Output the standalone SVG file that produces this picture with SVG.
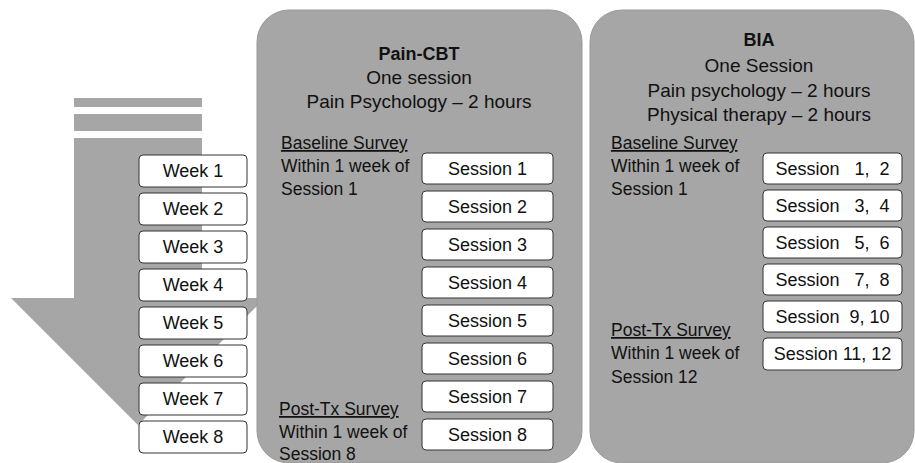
<svg xmlns="http://www.w3.org/2000/svg" width="915" height="463" viewBox="0 0 915 463">
<style>
text{font-family:"Liberation Sans",Arial,sans-serif;fill:#111;}
.box{fill:#fff;stroke:#333;stroke-width:1;}
.bt{font-size:18px;text-anchor:middle;white-space:pre;}
.hd{font-size:19px;text-anchor:middle;}
.tt{font-size:18px;font-weight:bold;text-anchor:middle;}
.lt{font-size:17.5px;}
.ul{text-decoration:underline;}
.panel{fill:#a6a6a6;stroke:#999;stroke-width:1;}
.arrow{fill:#a6a6a6;}
</style>
<g id="arrow">
<rect class="arrow" x="74" y="98" width="128" height="9"/>
<rect class="arrow" x="74" y="114" width="128" height="17"/>
<polygon class="arrow" points="74,138 202,138 202,298 265,298 138,425 11,298 74,298"/>
</g>
<g id="weeks">
<g id="week1"><rect class="box" x="139" y="155" width="108" height="32" rx="4"/><text class="bt" x="193" y="177">Week 1</text></g>
<g id="week2"><rect class="box" x="139" y="193" width="108" height="32" rx="4"/><text class="bt" x="193" y="215">Week 2</text></g>
<g id="week3"><rect class="box" x="139" y="231" width="108" height="32" rx="4"/><text class="bt" x="193" y="253">Week 3</text></g>
<g id="week4"><rect class="box" x="139" y="269" width="108" height="32" rx="4"/><text class="bt" x="193" y="291">Week 4</text></g>
<g id="week5"><rect class="box" x="139" y="307" width="108" height="32" rx="4"/><text class="bt" x="193" y="329">Week 5</text></g>
<g id="week6"><rect class="box" x="139" y="345" width="108" height="32" rx="4"/><text class="bt" x="193" y="367">Week 6</text></g>
<g id="week7"><rect class="box" x="139" y="383" width="108" height="32" rx="4"/><text class="bt" x="193" y="405">Week 7</text></g>
<g id="week8"><rect class="box" x="139" y="421" width="108" height="32" rx="4"/><text class="bt" x="193" y="443">Week 8</text></g>
</g>
<g id="painCBT">
<rect class="panel" x="257" y="10" width="325" height="453" rx="32"/>
<text class="tt" x="419" y="60">Pain-CBT</text>
<text class="hd" x="419" y="84">One session</text>
<text class="hd" x="419" y="108">Pain Psychology – 2 hours</text>
<text class="lt ul" x="281" y="149">Baseline Survey</text>
<text class="lt" x="281" y="172">Within 1 week of</text>
<text class="lt" x="281" y="195">Session 1</text>
<text class="lt ul" x="279" y="415">Post-Tx Survey</text>
<text class="lt" x="279" y="438">Within 1 week of</text>
<text class="lt" x="279" y="460">Session 8</text>
</g>
<g id="cbtSessions">
<g id="cbt1"><rect class="box" x="422" y="153" width="131" height="31" rx="4"/><text class="bt" x="487.5" y="175">Session 1</text></g>
<g id="cbt2"><rect class="box" x="422" y="191" width="131" height="31" rx="4"/><text class="bt" x="487.5" y="213">Session 2</text></g>
<g id="cbt3"><rect class="box" x="422" y="229" width="131" height="31" rx="4"/><text class="bt" x="487.5" y="251">Session 3</text></g>
<g id="cbt4"><rect class="box" x="422" y="267" width="131" height="31" rx="4"/><text class="bt" x="487.5" y="289">Session 4</text></g>
<g id="cbt5"><rect class="box" x="422" y="305" width="131" height="31" rx="4"/><text class="bt" x="487.5" y="327">Session 5</text></g>
<g id="cbt6"><rect class="box" x="422" y="343" width="131" height="31" rx="4"/><text class="bt" x="487.5" y="365">Session 6</text></g>
<g id="cbt7"><rect class="box" x="422" y="381" width="131" height="31" rx="4"/><text class="bt" x="487.5" y="403">Session 7</text></g>
<g id="cbt8"><rect class="box" x="422" y="419" width="131" height="31" rx="4"/><text class="bt" x="487.5" y="441">Session 8</text></g>
</g>
<g id="BIA">
<rect class="panel" x="590" y="10" width="324" height="453" rx="32"/>
<text class="tt" x="759" y="46">BIA</text>
<text class="hd" x="759" y="72">One Session</text>
<text class="hd" x="759" y="97">Pain psychology – 2 hours</text>
<text class="hd" x="759" y="121">Physical therapy – 2 hours</text>
<text class="lt ul" x="611" y="149">Baseline Survey</text>
<text class="lt" x="611" y="172">Within 1 week of</text>
<text class="lt" x="611" y="195">Session 1</text>
<text class="lt ul" x="611" y="336">Post-Tx Survey</text>
<text class="lt" x="611" y="359">Within 1 week of</text>
<text class="lt" x="611" y="383">Session 12</text>
</g>
<g id="biaSessions">
<g id="bia1"><rect class="box" x="763" y="153" width="139" height="31" rx="4"/><text class="bt" x="832.5" y="175">Session   1,  2</text></g>
<g id="bia2"><rect class="box" x="763" y="190" width="139" height="31" rx="4"/><text class="bt" x="832.5" y="212">Session   3,  4</text></g>
<g id="bia3"><rect class="box" x="763" y="227" width="139" height="31" rx="4"/><text class="bt" x="832.5" y="249">Session   5,  6</text></g>
<g id="bia4"><rect class="box" x="763" y="264" width="139" height="31" rx="4"/><text class="bt" x="832.5" y="286">Session   7,  8</text></g>
<g id="bia5"><rect class="box" x="763" y="301" width="139" height="31" rx="4"/><text class="bt" x="832.5" y="323">Session  9, 10</text></g>
<g id="bia6"><rect class="box" x="763" y="338" width="139" height="32" rx="4"/><text class="bt" x="832.5" y="360">Session 11, 12</text></g>
</g>
<g id="connectors"></g>
</svg>
